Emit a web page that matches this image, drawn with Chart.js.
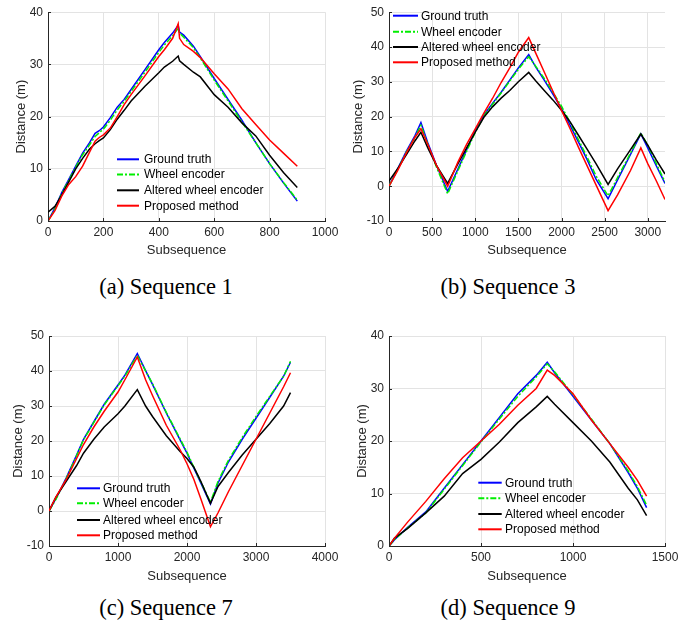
<!DOCTYPE html>
<html>
<head>
<meta charset="utf-8">
<script src="https://cdn.jsdelivr.net/npm/chart.js@4/dist/chart.umd.min.js"></script>
<style>
  html, body { margin: 0; padding: 0; background: #fff; }
  body { width: 700px; height: 626px; position: relative; overflow: hidden; }
  canvas { position: absolute; }
  .cap { position: absolute; width: 300px; text-align: center; font-family: "Liberation Serif", "Times New Roman", serif; font-size: 22.5px; line-height: 26px; color: #000; }
</style>
</head>
<body>
<canvas id="ca" width="345" height="262" style="left:0px;top:0px;"></canvas>
<canvas id="cb" width="355" height="262" style="left:345px;top:0px;"></canvas>
<canvas id="cc" width="345" height="270" style="left:0px;top:320px;"></canvas>
<canvas id="cd" width="355" height="270" style="left:345px;top:320px;"></canvas>
<div class="cap" style="left:16px;top:274px;">(a) Sequence 1</div>
<div class="cap" style="left:358px;top:274px;">(b) Sequence 3</div>
<div class="cap" style="left:16px;top:595px;">(c) Sequence 7</div>
<div class="cap" style="left:358px;top:595px;">(d) Sequence 9</div>
<script>
// ---- Legend labels ----
const seriesNames = ["Ground truth", "Wheel encoder", "Altered wheel encoder", "Proposed method"];

// ---- Sequence 1 ----
const seq1XTicks = [0, 200, 400, 600, 800, 1000];
const seq1YTicks = [0, 10, 20, 30, 40];
const seq1X = [0, 25, 50, 75, 100, 125, 150, 170, 185, 200, 225, 250, 275, 300, 350, 400, 420, 450, 470, 475, 490, 525, 550, 600, 650, 700, 750, 800, 850, 900];
const seq1Ground = [0, 2.5, 5.5, 8, 10.5, 13, 15, 16.8, 17.3, 18, 19.8, 21.8, 23.3, 25.2, 29, 32.8, 34.2, 36, 37.5, 36.2, 35.6, 33.5, 31.5, 27.3, 23.3, 19.3, 15, 11, 7.3, 3.8];
const seq1Wheel = [0, 2.3, 5.3, 7.8, 10.3, 12.7, 14.6, 16.2, 16.9, 17.6, 19.3, 21.3, 22.9, 24.8, 28.5, 32.3, 33.7, 35.5, 36.9, 36, 35.2, 33.2, 31.2, 27, 23, 19, 15, 11, 7.4, 4.0];
const seq1Altered = [1.7, 2.8, 5, 7.5, 10, 12, 13.8, 14.8, 15.4, 15.9, 17.5, 19.5, 21.2, 23, 25.8, 28.4, 29.5, 30.6, 31.6, 30.7, 30, 28.5, 27.6, 24.2, 21.8, 18.8, 16.3, 12.6, 9.3, 6.4];
const seq1Proposed = [0, 2, 4.8, 7, 8.5, 10.5, 13.2, 15.3, 16, 16.5, 17.8, 20, 22.3, 24.2, 27.8, 31.5, 32.8, 35, 37.8, 35, 33.8, 32.5, 31.3, 28.2, 25.3, 21.5, 18.5, 15.5, 13, 10.5];

// ---- Sequence 3 ----
const seq3XTicks = [0, 500, 1000, 1500, 2000, 2500, 3000];
const seq3YTicks = [-10, 0, 10, 20, 30, 40, 50];
const seq3X = [0, 100, 200, 300, 370, 450, 550, 680, 800, 900, 1000, 1100, 1200, 1300, 1400, 1500, 1620, 1700, 1800, 1900, 2000, 2100, 2200, 2300, 2400, 2540, 2650, 2800, 2920, 3000, 3100, 3200];
const seq3Ground = [0, 5, 10, 14.5, 18.3, 12.5, 6, -1.5, 5, 10.5, 16, 20.5, 23.8, 27, 30.5, 34, 37.8, 34.3, 30.5, 26.5, 22.3, 17.5, 12.5, 7.5, 2, -3.6, 1.8, 9.1, 15, 11, 5.8, 0.8];
const seq3Wheel = [0, 4.8, 9.7, 14, 17.5, 12, 5.5, -2.2, 4.5, 10, 15.5, 20.2, 23.5, 26.8, 30.2, 33.6, 37.2, 34.5, 31, 27, 23, 18.3, 13.2, 8.2, 3, -2.8, 2.5, 9.5, 15.3, 11.8, 6.5, 1.2];
const seq3Altered = [1.5, 5, 9, 13, 15.5, 11, 6, 0.8, 6.5, 11, 15.5, 19.8, 22.8, 25.3, 27.5, 30, 32.7, 30.3, 27.5, 24.8, 21.8, 18.5, 14.5, 10.5, 6.5, 0.5, 5, 10.5, 15, 11.8, 7.5, 3.5];
const seq3Proposed = [0, 4.5, 9.5, 14, 16.5, 12, 6, 0, 7, 12, 16.5, 21, 25.2, 29.8, 34, 38.5, 42.7, 38.3, 32.8, 27.3, 21.8, 16.5, 11, 5.7, 0.4, -7, -2.5, 4.5, 11, 6.5, 1.5, -3.8];

// ---- Sequence 7 ----
const seq7XTicks = [0, 1000, 2000, 3000, 4000];
const seq7YTicks = [-10, 0, 10, 20, 30, 40, 50];
const seq7X = [0, 100, 250, 400, 500, 650, 800, 1000, 1100, 1280, 1400, 1500, 1700, 1900, 2000, 2100, 2200, 2340, 2450, 2600, 2800, 3000, 3200, 3400, 3500];
const seq7Ground = [0, 3.5, 9.5, 16, 20.5, 25.5, 30.5, 36, 38.8, 45, 40.1, 36.2, 28, 20.3, 16.5, 12.2, 8, 2, 8, 14, 20.5, 26.5, 32.5, 38.5, 42.5];
const seq7Wheel = [0, 3.3, 9.3, 15.8, 20.3, 25.3, 30.3, 35.8, 38.5, 44.5, 40, 36.4, 28.2, 20.6, 16.8, 12.5, 8.3, 2.5, 8.5, 14.5, 21, 27, 32.8, 38.5, 42.8];
const seq7Altered = [0, 4, 8.5, 13, 16.5, 20.5, 24, 27.8, 30, 34.7, 30, 27, 21.5, 17, 15, 12.5, 8.5, 2.2, 7, 11, 16, 20.5, 25, 30, 33.8];
const seq7Proposed = [0, 4, 9, 15, 19, 24, 28.5, 34, 37.5, 44, 37.5, 33, 24.5, 17.5, 13.5, 9, 3.5, -4.5, -0.5, 5.5, 13, 20.5, 28, 35.5, 39.5];

// ---- Sequence 9 ----
const seq9XTicks = [0, 500, 1000, 1500];
const seq9YTicks = [0, 10, 20, 30, 40];
const seq9X = [0, 30, 100, 200, 300, 400, 500, 600, 700, 800, 860, 900, 1000, 1100, 1200, 1300, 1350, 1400];
const seq9Ground = [0, 1.2, 3.5, 6.5, 11, 15.5, 20, 24.5, 29, 32.5, 35, 33, 28.5, 24, 19.5, 14, 11, 7.3];
const seq9Wheel = [0, 1.2, 3.4, 6.3, 10.8, 15.3, 19.8, 24.2, 28.5, 32.2, 34.7, 33.2, 28.8, 24.2, 19.5, 14.3, 11.3, 7.8];
const seq9Altered = [0, 1.5, 3.3, 6.3, 9.5, 13.8, 16.5, 19.8, 23.5, 26.5, 28.5, 27, 23.5, 20, 16, 11, 8.8, 5.8];
const seq9Proposed = [0, 1.5, 4.5, 8.5, 12.8, 16.8, 20, 23.2, 26.8, 30, 33.5, 32.5, 29, 24, 19.5, 15, 12.5, 9.5];

const FONT = '"Liberation Sans", Arial, Helvetica, sans-serif';
const styles = [
  { color: '#0000ff', dash: [], order: 4 },
  { color: '#00ee00', dash: [6, 2, 2, 2], order: 3 },
  { color: '#000000', dash: [], order: 2 },
  { color: '#ff0000', dash: [], order: 1 }
];

function pts(xs, ys) { return xs.map((x, i) => ({ x: x, y: ys[i] })); }

const legendPlugin = {
  id: 'inLegend',
  afterDatasetsDraw(chart, args, opts) {
    const ctx = chart.ctx;
    ctx.save();
    ctx.font = '12px ' + FONT;
    ctx.textBaseline = 'middle';
    ctx.textAlign = 'left';
    opts.rows.forEach((y, i) => {
      const ds = chart.data.datasets[i];
      ctx.beginPath();
      ctx.setLineDash(ds.borderDash || []);
      ctx.strokeStyle = ds.borderColor;
      ctx.lineWidth = 2;
      ctx.moveTo(opts.x1, y);
      ctx.lineTo(opts.x2, y);
      ctx.stroke();
      ctx.setLineDash([]);
      ctx.fillStyle = '#000';
      ctx.fillText(ds.label, opts.tx, y + 0.5);
    });
    ctx.restore();
  }
};

const innerTicks = {
  id: 'innerTicks',
  afterDraw(chart) {
    const ctx = chart.ctx, a = chart.chartArea;
    const xs = chart.scales.x, ys = chart.scales.y;
    ctx.save();
    ctx.strokeStyle = '#262626';
    ctx.lineWidth = 1;
    ctx.beginPath();
    xs.ticks.forEach(t => {
      const p = Math.round(xs.getPixelForValue(t.value)) + 0.5;
      ctx.moveTo(p, a.bottom); ctx.lineTo(p, a.bottom - 3);
    });
    ys.ticks.forEach(t => {
      const p = Math.round(ys.getPixelForValue(t.value)) + 0.5;
      ctx.moveTo(a.left, p); ctx.lineTo(a.left + 3, p);
    });
    ctx.stroke();
    ctx.restore();
  }
};

function makeChart(id, xs, ys, xTicks, yTicks, cfg) {
  const datasets = ys.map((arr, i) => ({
    label: seriesNames[i],
    data: pts(xs, arr),
    borderColor: styles[i].color,
    backgroundColor: styles[i].color,
    borderDash: styles[i].dash,
    borderWidth: 1.5,
    pointRadius: 0,
    tension: 0,
    fill: false,
    order: styles[i].order
  }));
  const tickFont = { family: FONT, size: 12 };
  const titleFont = { family: FONT, size: 13 };
  return new Chart(document.getElementById(id), {
    type: 'line',
    data: { datasets: datasets },
    options: {
      responsive: false,
      animation: false,
      events: [],
      layout: { padding: { top: cfg.top, right: cfg.right, left: 0, bottom: 0 } },
      plugins: {
        legend: { display: false },
        tooltip: { enabled: false },
        inLegend: cfg.legend
      },
      scales: {
        x: {
          type: 'linear',
          min: cfg.xmin, max: cfg.xmax,
          afterBuildTicks: s => { s.ticks = xTicks.map(v => ({ value: v })); },
          ticks: { color: '#262626', font: tickFont, padding: 4, maxRotation: 0, autoSkip: false, callback: v => String(v) },
          grid: { color: '#e3e3e3', drawTicks: false },
          border: { display: true, color: '#262626', width: 1 },
          title: { display: true, text: 'Subsequence', color: '#262626', font: titleFont, padding: { top: 0, bottom: cfg.xtpad } },
          afterFit: s => { s.height = cfg.xh; }
        },
        y: {
          type: 'linear',
          min: cfg.ymin, max: cfg.ymax,
          afterBuildTicks: s => { s.ticks = yTicks.map(v => ({ value: v })); },
          ticks: { color: '#262626', font: tickFont, padding: 5, autoSkip: false, callback: v => String(v) },
          grid: { color: '#e3e3e3', drawTicks: false },
          border: { display: true, color: '#262626', width: 1 },
          title: { display: true, text: 'Distance (m)', color: '#262626', font: titleFont, padding: { top: cfg.ytpad, bottom: 0 } },
          afterFit: s => { s.width = cfg.yw; }
        }
      }
    },
    plugins: [legendPlugin, innerTicks]
  });
}

makeChart('ca', seq1X, [seq1Ground, seq1Wheel, seq1Altered, seq1Proposed], seq1XTicks, seq1YTicks, {
  top: 11, right: 20, yw: 48, xh: 41, xtpad: 4, ytpad: 13.5,
  xmin: 0, xmax: 1000, ymin: 0, ymax: 40,
  legend: { x1: 117, x2: 139, tx: 144, rows: [159.3, 174.5, 190.3, 205.7] }
});
makeChart('cb', seq3X, [seq3Ground, seq3Wheel, seq3Altered, seq3Proposed], seq3XTicks, seq3YTicks, {
  top: 11, right: 35, yw: 44, xh: 41, xtpad: 4, ytpad: 6,
  xmin: 0, xmax: 3200, ymin: -10, ymax: 50,
  legend: { x1: 48, x2: 73, tx: 76, rows: [15.7, 31.7, 47, 62.3] }
});
makeChart('cc', seq7X, [seq7Ground, seq7Wheel, seq7Altered, seq7Proposed], seq7XTicks, seq7YTicks, {
  top: 16, right: 20, yw: 49, xh: 44, xtpad: 5.5, ytpad: 10.5,
  xmin: 0, xmax: 4000, ymin: -10, ymax: 50,
  legend: { x1: 77, x2: 100, tx: 103, rows: [168.3, 183.3, 200, 215.3] }
});
makeChart('cd', seq9X, [seq9Ground, seq9Wheel, seq9Altered, seq9Proposed], seq9XTicks, seq9YTicks, {
  top: 16, right: 35, yw: 44, xh: 44, xtpad: 5.5, ytpad: 9.7,
  xmin: 0, xmax: 1500, ymin: 0, ymax: 40,
  legend: { x1: 133.3, x2: 156.7, tx: 160, rows: [162.7, 178.3, 194, 209.3] }
});
</script>
</body>
</html>
